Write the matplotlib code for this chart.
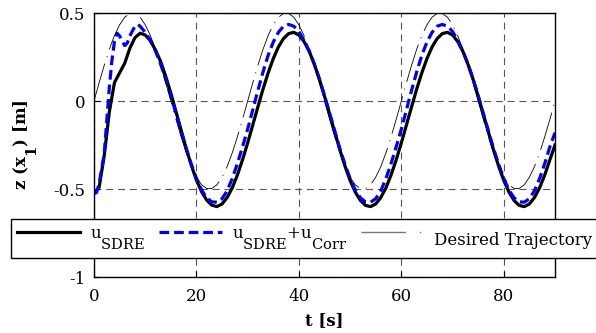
import matplotlib
matplotlib.use("Agg")
import matplotlib.pyplot as plt
import matplotlib._mathtext as mathtext_core
from matplotlib.lines import Line2D
from matplotlib.transforms import ScaledTranslation

plt.rcParams['font.family'] = 'DejaVu Serif'
plt.rcParams['mathtext.fontset'] = 'dejavuserif'
plt.rcParams['lines.scale_dashes'] = False
# large, deeply dropped subscripts
mathtext_core.SHRINK_FACTOR = 0.88
mathtext_core.DejaVuSerifFontConstants.sub1 = 1.3

# time [s]
t = list(range(0, 91))

# desired trajectory z_d(t)
z_des = [0.0, 0.104, 0.203, 0.294, 0.372, 0.433, 0.476, 0.497, 0.497, 0.476,
         0.433, 0.372, 0.294, 0.203, 0.104, 0.0, -0.104, -0.203, -0.294, -0.372,
         -0.433, -0.476, -0.497, -0.497, -0.476, -0.433, -0.372, -0.294, -0.203, -0.104,
         0.0, 0.104, 0.203, 0.294, 0.372, 0.433, 0.476, 0.497, 0.497, 0.476,
         0.433, 0.372, 0.294, 0.203, 0.104, 0.0, -0.104, -0.203, -0.294, -0.372,
         -0.433, -0.476, -0.497, -0.497, -0.476, -0.433, -0.372, -0.294, -0.203, -0.104,
         0.0, 0.104, 0.203, 0.294, 0.372, 0.433, 0.476, 0.497, 0.497, 0.476,
         0.433, 0.372, 0.294, 0.203, 0.104, 0.0, -0.104, -0.203, -0.294, -0.372,
         -0.433, -0.476, -0.497, -0.497, -0.476, -0.433, -0.372, -0.294, -0.203, -0.104,
         0.0]

# SDRE controller only
z_sdre = [-0.526, -0.49, -0.31, -0.06, 0.105, 0.16, 0.215, 0.30, 0.36, 0.385,
          0.375, 0.343, 0.29, 0.225, 0.14, 0.045, -0.06, -0.165, -0.27, -0.365,
          -0.45, -0.515, -0.563, -0.592, -0.600, -0.585, -0.548, -0.493, -0.420, -0.334,
          -0.238, -0.136, -0.033, 0.068, 0.160, 0.241, 0.307, 0.355, 0.383, 0.390,
          0.375, 0.338, 0.283, 0.210, 0.124, 0.028, -0.074, -0.177, -0.278, -0.370,
          -0.452, -0.517, -0.565, -0.593, -0.600, -0.585, -0.548, -0.493, -0.420, -0.334,
          -0.238, -0.136, -0.033, 0.068, 0.160, 0.241, 0.307, 0.355, 0.383, 0.390,
          0.375, 0.338, 0.283, 0.210, 0.124, 0.028, -0.074, -0.177, -0.278, -0.370,
          -0.452, -0.517, -0.565, -0.593, -0.600, -0.585, -0.548, -0.493, -0.420, -0.334,
          -0.25]

# SDRE + correction term
t_corr = [0, 0.5, 1, 2, 3, 3.5, 4, 4.5, 5, 5.5, 6, 6.5, 7, 8, 8.5, 9, 10, 11] + list(range(12, 91))
z_corr = [-0.526, -0.52, -0.47, -0.30, 0.08, 0.23, 0.34, 0.385, 0.37, 0.34,
          0.315, 0.33, 0.37, 0.425, 0.435, 0.425, 0.39, 0.345,
          0.285, 0.21, 0.125, 0.03, -0.07, -0.17, -0.27, -0.36,
          -0.44, -0.505, -0.55, -0.573, -0.575, -0.555, -0.51, -0.44, -0.355, -0.26,
          -0.16, -0.05, 0.06, 0.165, 0.26, 0.335, 0.39, 0.425, 0.435, 0.425,
          0.395, 0.345, 0.285, 0.21, 0.125, 0.03, -0.07, -0.17, -0.27, -0.36,
          -0.44, -0.505, -0.55, -0.573, -0.575, -0.555, -0.51, -0.44, -0.355, -0.26,
          -0.16, -0.05, 0.06, 0.165, 0.26, 0.335, 0.39, 0.425, 0.435, 0.425,
          0.395, 0.345, 0.285, 0.21, 0.125, 0.03, -0.07, -0.17, -0.27, -0.36,
          -0.44, -0.505, -0.55, -0.573, -0.575, -0.555, -0.51, -0.44, -0.355, -0.26,
          -0.18]

xticks = [0, 20, 40, 60, 80]
yticks = [-1, -0.5, 0, 0.5]
ytick_labels = ['-1', '-0.5', '0', '0.5']
labels = [r'u$_{\mathrm{SDRE}}$', r'u$_{\mathrm{SDRE}}$+u$_{\mathrm{Corr}}$', 'Desired Trajectory']

fig = plt.figure(figsize=(5.96, 3.33), dpi=100)
ax = fig.add_axes([94/596, 1-277/333, (555-94)/596, (277-13)/333])

l1, = ax.plot(t, z_sdre, color='black', lw=2.3, solid_joinstyle='round')
l2, = ax.plot(t_corr, z_corr, color=(0, 0, 1), lw=2.3, dashes=(7, 3.5))
l3, = ax.plot(t, z_des, color='black', lw=0.6, dashes=(28, 5, 0.8, 5))

ax.set_xlim(0, 90)
ax.set_ylim(-1, 0.5)
ax.set_xticks(xticks)
ax.set_yticks(yticks)
ax.set_yticklabels(ytick_labels)
ax.tick_params(direction='in', length=4, width=0.8, labelsize=12,
               top=False, right=False)
ax.tick_params(axis='x', pad=8)
ax.tick_params(axis='y', pad=6)
ax.grid(True, color='#555555', lw=0.8, dashes=(5, 3.5))
for s in ax.spines.values():
    s.set_linewidth(1.0)

ax.set_xlabel('t [s]', fontsize=12, fontweight='bold', labelpad=5)
ax.set_ylabel(r'z (x$_\mathbf{1}$) [m]', fontsize=12, fontweight='bold', labelpad=10)

h3 = Line2D([], [], color='#777777', lw=1.0, dashes=(32, 10, 1, 10))
leg = fig.legend([l1, l2, h3], labels, loc='center', ncol=3,
                 bbox_to_anchor=(304.5/596, 1-238.5/333), fontsize=12,
                 frameon=True, fancybox=False, edgecolor='black', framealpha=1,
                 handlelength=3.8, handletextpad=0.6, columnspacing=0.8,
                 borderpad=0.35, borderaxespad=0)
leg.get_frame().set_linewidth(1.0)
# centre the plain label against the subscripted ones
txt = leg.get_texts()[2]
txt.set_transform(txt.get_transform() + ScaledTranslation(0, -5/72, fig.dpi_scale_trans))

fig.savefig('out.png', dpi=100)
